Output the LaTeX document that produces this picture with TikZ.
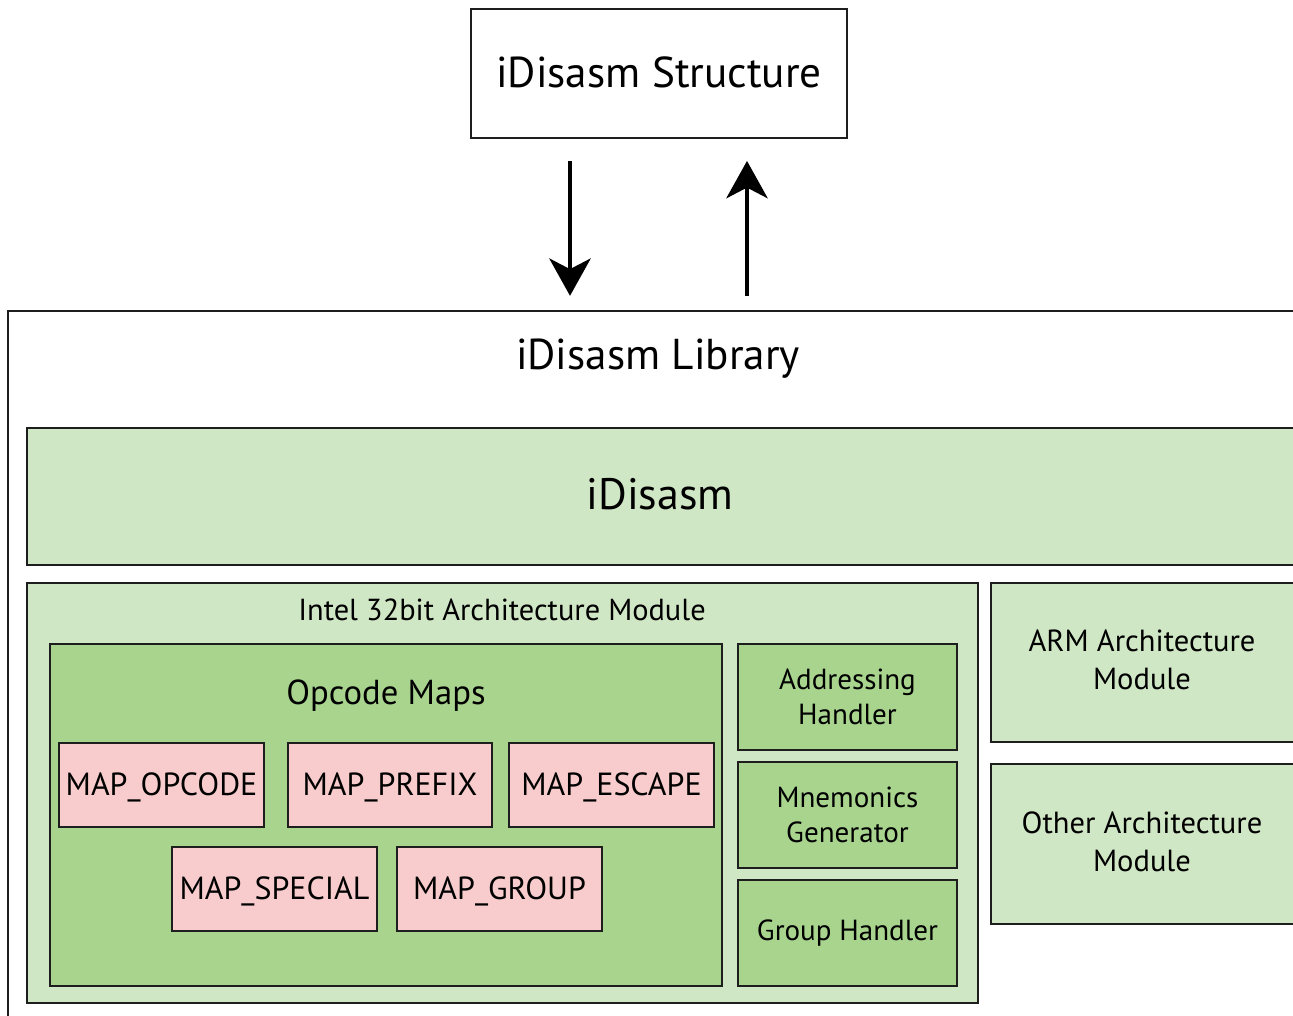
\documentclass[tikz,border=0pt]{standalone}
\usepackage{fontspec}
\setmainfont{PT Sans}
\usetikzlibrary{fit,arrows.meta}
\definecolor{lightgreen}{RGB}{208,231,197}
\definecolor{midgreen}{RGB}{168,212,142}
\definecolor{pinkmap}{RGB}{248,204,204}
\definecolor{edge}{RGB}{30,30,30}
\tikzset{
  px/.style={x=0.75pt,y=-0.75pt},
  box/.style={draw=edge,line width=1.4pt,inner sep=0pt,align=center},
  plain/.style={box,fill=white},
  outer/.style={box,fill=lightgreen},
  inner/.style={box,fill=midgreen},
  mapbox/.style={box,fill=pinkmap},
  maptxt/.style={font=\fontsize{24}{28}\selectfont},
  bigtxt/.style={font=\fontsize{32.4}{36}\selectfont},
  midtxt/.style={font=\fontsize{21.8}{26}\selectfont,align=center},
  archtxt/.style={font=\fontsize{22.9}{28.5}\selectfont,align=center},
  flow/.style={line width=3pt,-{Stealth[length=28pt,width=31pt,inset=8pt]}},
}
\begin{document}
\begin{tikzpicture}[px]
\useasboundingbox (0,0) rectangle (1293,1015);
\clip (0,0) rectangle (1293,1015);

% top structure box
\node[plain,fit={(471,9)(847,138)}] (struct) {};
\node[bigtxt] (structtxt) at (659,72) {iDisasm Structure};

% library frame (runs past the right and bottom edges)
\node[box,line width=1.8pt,fit={(8,311)(1330,1060)}] (lib) {};
\node[bigtxt] (libtxt) at (658,359) {iDisasm Library};

% main disassembler block
\node[outer,fit={(27,428)(1330,565)}] (core) {};
\node[font=\fontsize{33}{36}\selectfont] (coretxt) at (660,494) {iDisasm};

% Intel module
\node[outer,fit={(27,583)(978,1003)}] (intel) {};
\node[font=\fontsize{22.8}{26}\selectfont] (inteltxt) at (502,610) {Intel 32bit Architecture Module};

\node[inner,fit={(50,644)(722,986)}] (opmaps) {};
\node[font=\fontsize{26}{30}\selectfont] (opmapstxt) at (386,696) {Opcode Maps};

\node[mapbox,fit={(59,743)(264,827)}] (mopcode) {};
\node[mapbox,fit={(288,743)(492,827)}] (mprefix) {};
\node[mapbox,fit={(509,743)(714,827)}] (mescape) {};
\node[mapbox,fit={(172,847)(377,931)}] (mspecial) {};
\node[mapbox,fit={(397,847)(602,931)}] (mgroup) {};
\node[maptxt] at ([yshift=-2pt]mopcode.center) {MAP\_OPCODE};
\node[maptxt] at ([yshift=-2pt]mprefix.center) {MAP\_PREFIX};
\node[maptxt] at ([yshift=-2pt]mescape.center) {MAP\_ESCAPE};
\node[maptxt] at ([yshift=-2pt]mspecial.center) {MAP\_SPECIAL};
\node[maptxt] at ([yshift=-2pt]mgroup.center) {MAP\_GROUP};

\node[inner,fit={(738,644)(957,750)}] (addr) {};
\node[inner,fit={(738,762)(957,868)}] (mnem) {};
\node[inner,fit={(738,880)(957,986)}] (grp) {};
\node[midtxt] at (addr.center) {Addressing\\Handler};
\node[midtxt] at (mnem.center) {Mnemonics\\Generator};
\node[midtxt] at (grp.center) {Group Handler};

% other architectures
\node[outer,fit={(991,583)(1330,742)}] (arm) {};
\node[outer,fit={(991,764)(1330,924)}] (other) {};
\node[archtxt] at (1142,660) {ARM Architecture\\Module};
\node[archtxt] at (1142,842) {Other Architecture\\Module};

% data flow between structure and library
\coordinate (downx) at (570,0);
\coordinate (upx) at (747,0);
\draw[flow,shorten <=16.5pt,shorten >=10.5pt] (struct.south -| downx) -- (lib.north -| downx);
\draw[flow,shorten <=10.5pt,shorten >=16.5pt] (lib.north -| upx) -- (struct.south -| upx);
\end{tikzpicture}
\end{document}
